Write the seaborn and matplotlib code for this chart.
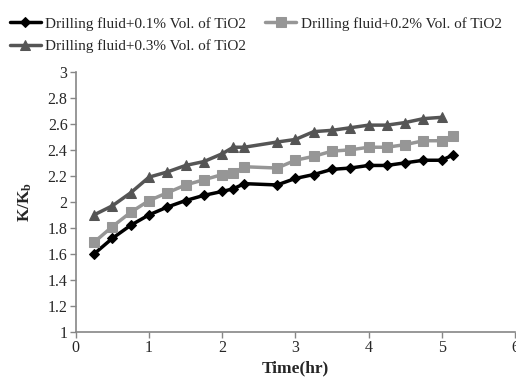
import pandas as pd
import seaborn as sns
import matplotlib
matplotlib.use("Agg")
import matplotlib.pyplot as plt

time_hr = [0.25, 0.5, 0.75, 1.0, 1.25, 1.5, 1.75, 2.0, 2.15, 2.3, 2.75, 3.0,
           3.25, 3.5, 3.75, 4.0, 4.25, 4.5, 4.75, 5.0, 5.15]

tio2_01 = [1.60, 1.72, 1.82, 1.90, 1.96, 2.01, 2.05, 2.08, 2.10, 2.14, 2.13, 2.18,
           2.21, 2.25, 2.26, 2.28, 2.28, 2.30, 2.32, 2.32, 2.36]
tio2_02 = [1.69, 1.81, 1.92, 2.01, 2.07, 2.13, 2.17, 2.21, 2.22, 2.27, 2.26, 2.32,
           2.35, 2.39, 2.40, 2.42, 2.42, 2.44, 2.47, 2.47, 2.51]
# the 0.3% series stops at 5 hr
tio2_03 = [1.90, 1.97, 2.07, 2.19, 2.23, 2.28, 2.31, 2.37, 2.42, 2.42, 2.46, 2.48,
           2.54, 2.55, 2.57, 2.59, 2.59, 2.61, 2.64, 2.65]

labels = ["Drilling fluid+0.1% Vol. of TiO2",
          "Drilling fluid+0.2% Vol. of TiO2",
          "Drilling fluid+0.3% Vol. of TiO2"]

sns.set_style("white")
plt.rcParams["font.family"] = ["Liberation Serif", "DejaVu Serif"]
plt.rcParams["mathtext.default"] = "regular"
plt.rcParams["font.size"] = 11.5

fig = plt.figure(figsize=(5.16, 3.78), dpi=100)
ax = fig.add_axes([0.147, 0.122, 0.851, 0.688])

series = [(tio2_01, "black", "D", 5.5),
          (tio2_02, "#969696", "s", 7),
          (tio2_03, "#555555", "^", 7.5)]

for (vals, col, mk, ms), lab in zip(series, labels):
    df = pd.DataFrame({"time": time_hr[:len(vals)], "ratio": vals})
    sns.lineplot(data=df, x="time", y="ratio", ax=ax, color=col, marker=mk,
                 markersize=ms, markeredgecolor=col, lw=2.5, label=lab)

ax.set_xlim(0, 6)
ax.set_ylim(1, 3)
ax.set_xticks(range(0, 7))
ax.set_yticks([1, 1.2, 1.4, 1.6, 1.8, 2, 2.2, 2.4, 2.6, 2.8, 3])
ax.set_yticklabels(["1", "1.2", "1.4", "1.6", "1.8", "2", "2.2", "2.4", "2.6", "2.8", "3"])
ax.tick_params(axis="both", direction="out", length=4, width=1, color="#868686",
               left=True, bottom=True, labelsize=11.5, pad=2)
ax.spines[["right", "top"]].set_visible(False)
for s in ["left", "bottom"]:
    ax.spines[s].set_color("#868686")
    ax.spines[s].set_linewidth(1.2)

ax.set_xlabel("Time(hr)", fontweight="bold", fontsize=12.5, labelpad=3)
ax.set_ylabel("K/K$_b$", fontweight="bold", fontsize=12.5, labelpad=10)

handles, labs = ax.get_legend_handles_labels()
ax.legend_.remove()
order = [0, 2, 1]
fig.legend([handles[i] for i in order], [labs[i] for i in order],
           loc="upper left", bbox_to_anchor=(0.002, 0.98), ncol=2,
           frameon=False, handlelength=2.0, handletextpad=0.3, columnspacing=1.25,
           labelspacing=0.6, fontsize=11, borderaxespad=0.2)

fig.savefig("out.png", dpi=100)
